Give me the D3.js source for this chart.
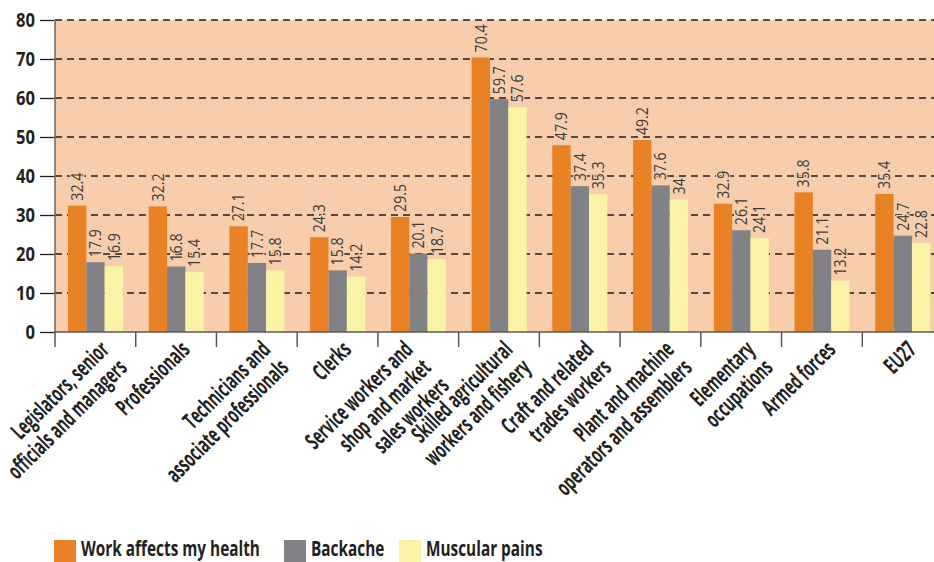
<!DOCTYPE html>
<html>
<head>
<meta charset="utf-8">
<script src="https://cdn.jsdelivr.net/npm/d3@7"></script>
<style>
  html, body { margin: 0; padding: 0; background: #fff; }
  svg { display: block; }
  text { font-family: "Open Sans", "Noto Sans", "DejaVu Sans", sans-serif; }
</style>
</head>
<body>
<svg id="chart" width="934" height="562"></svg>
<script>
const categories = [
  ["Legislators, senior", "officials and managers"],
  ["Professionals"],
  ["Technicians and", "associate professionals"],
  ["Clerks"],
  ["Service workers and", "shop and market", "sales workers"],
  ["Skilled agricultural", "workers and fishery"],
  ["Craft and related", "trades workers"],
  ["Plant and machine", "operators and assemblers"],
  ["Elementary", "occupations"],
  ["Armed forces"],
  ["EU27"]
];
const seriesNames = ["Work affects my health", "Backache", "Muscular pains"];
const workAffectsHealth = [32.4, 32.2, 27.1, 24.3, 29.5, 70.4, 47.9, 49.2, 32.9, 35.8, 35.4];
const backache = [17.9, 16.8, 17.7, 15.8, 20.1, 59.7, 37.4, 37.6, 26.1, 21.1, 24.7];
const muscularPains = [16.9, 15.4, 15.8, 14.2, 18.7, 57.6, 35.3, 34, 24.1, 13.2, 22.8];
const yTicks = [0, 10, 20, 30, 40, 50, 60, 70, 80];
const colors = ["#e98125", "#808285", "#f9f3a5"];

const seriesValues = [workAffectsHealth, backache, muscularPains];
const catKeys = categories.map(c => c.join(" "));

const svg = d3.select("#chart");
const bg = "#f7cdab";
const ink = "#231f20";
const mLeft = 55, mTop = 20, mBottom = 332;
const bandRight = 943;

// measure helper to emulate a condensed face
function measure(str, size, weight) {
  const t = svg.append("text").attr("font-size", size).attr("font-weight", weight).text(str);
  const w = t.node().getComputedTextLength();
  t.remove();
  return w;
}
const legSize = 22;
const kLeg = 179 / measure("Work affects my health", legSize, "bold");
const labSize = 23;
const kLab = (94 / measure("Professionals", labSize, "bold") + 156 / measure("officials and managers", labSize, "bold")) / 2;
const valSize = 16;
const kVal = 28 / measure("47.9", valSize, "normal");
const tickSize = 19;
const kTick = 19 / measure("80", tickSize, "bold");

const x0 = d3.scaleBand().domain(catKeys).range([mLeft, bandRight]).padding(0);
const x1 = d3.scaleBand().domain(seriesNames).range([13, 68]).padding(0);
const y = d3.scaleLinear().domain([0, 80]).range([mBottom, mTop]);

// background
svg.append("rect").attr("x", mLeft).attr("y", y(80)).attr("width", 934 - mLeft).attr("height", y(0) - y(80)).attr("fill", bg);

// gridlines
svg.append("g").selectAll("line").data(yTicks.filter(d => d > 0)).join("line")
  .attr("x1", mLeft).attr("x2", 934)
  .attr("y1", d => y(d)).attr("y2", d => y(d))
  .attr("stroke", ink).attr("stroke-width", 1.3).attr("stroke-dasharray", "7,5");

// bars
const groups = svg.append("g").selectAll("g").data(catKeys).join("g")
  .attr("transform", d => `translate(${x0(d)},0)`);

groups.each(function(cat, i) {
  const g = d3.select(this);
  seriesNames.forEach((s, j) => {
    const v = seriesValues[j][i];
    g.append("rect")
      .attr("x", x1(s)).attr("width", x1.bandwidth())
      .attr("y", y(v)).attr("height", y(0) - y(v))
      .attr("fill", colors[j]);
  });
  seriesNames.forEach((s, j) => {
    const v = seriesValues[j][i];
    const cx = x1(s) + x1.bandwidth() / 2;
    g.append("text")
      .attr("transform", `translate(${cx},${y(v) - 5}) rotate(-90) scale(${kVal},1)`)
      .attr("dy", "0.36em")
      .attr("text-anchor", "start")
      .attr("font-size", valSize)
      .attr("fill", "#3b3b3b")
      .attr("stroke", bg).attr("stroke-width", 2.5).attr("paint-order", "stroke")
      .text(String(v));
  });
});

// y axis
const yAxis = d3.axisLeft(y).tickValues(yTicks).tickSize(15).tickPadding(5).tickFormat(d3.format("d"));
const ya = svg.append("g").attr("transform", `translate(${mLeft},0)`).call(yAxis);
ya.select(".domain").remove();
ya.selectAll(".tick line").attr("stroke", ink).attr("stroke-width", 1.3);
ya.selectAll(".tick text").each(function() {
  const t = d3.select(this);
  const xx = +t.attr("x");
  t.attr("x", null).attr("transform", `translate(${xx},0) scale(${kTick},1)`)
   .attr("font-size", tickSize).attr("font-weight", "bold").attr("fill", ink)
   .attr("font-family", "'Open Sans', sans-serif");
});
svg.append("line").attr("x1", mLeft).attr("x2", mLeft).attr("y1", mTop).attr("y2", mBottom + 1)
  .attr("stroke", "#6d6e71").attr("stroke-width", 1.6);

// x axis
svg.append("line").attr("x1", mLeft).attr("x2", 934).attr("y1", mBottom).attr("y2", mBottom)
  .attr("stroke", "#58595b").attr("stroke-width", 1.5);
const xTickPos = catKeys.map(k => x0(k)).concat([x0(catKeys[catKeys.length - 1]) + x0.bandwidth()]);
svg.append("g").selectAll("line").data(xTickPos).join("line")
  .attr("x1", d => d).attr("x2", d => d).attr("y1", mBottom).attr("y2", mBottom + 15)
  .attr("stroke", "#58595b").attr("stroke-width", 1.5);

// x labels
const lab = svg.append("g").selectAll("text").data(categories).join("text")
  .attr("transform", (d, i) => {
    const ax = x0(catKeys[i]) + x0.bandwidth() / 2 + 15 - (d.length > 2 ? 19 : 0);
    return `translate(${ax},${mBottom + 19}) rotate(-45) scale(${kLab},1)`;
  })
  .attr("text-anchor", "end")
  .attr("font-size", labSize).attr("font-weight", "bold").attr("fill", ink);
lab.each(function(lines) {
  const t = d3.select(this);
  lines.forEach((ln, k) => {
    t.append("tspan").attr("x", 0).attr("dy", k === 0 ? 0 : 25.5).text(ln);
  });
});

// legend
const leg = svg.append("g");
const legX = [54, 284, 399];
seriesNames.forEach((s, j) => {
  leg.append("rect").attr("x", legX[j]).attr("y", 540).attr("width", 22).attr("height", 22).attr("fill", colors[j]);
  leg.append("text").attr("transform", `translate(${legX[j] + 27},555.5) scale(${kLeg},1)`)
    .attr("font-size", legSize).attr("font-weight", "bold").attr("fill", ink).text(s);
});
</script>
</body>
</html>
